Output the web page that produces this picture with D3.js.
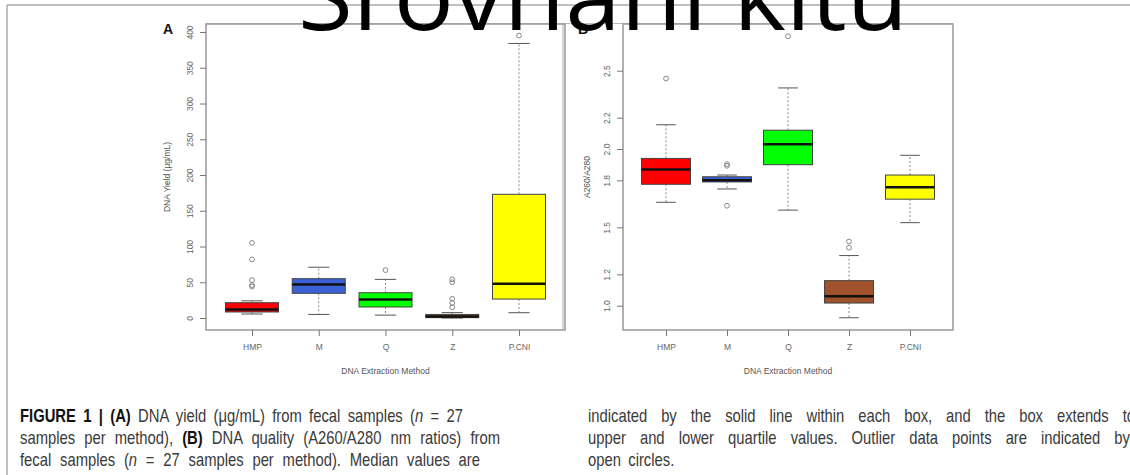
<!DOCTYPE html>
<html><head><meta charset="utf-8">
<script src="https://cdn.jsdelivr.net/npm/d3@7/dist/d3.min.js"></script>
<style>body{margin:0;background:#fff;}svg{display:block;}</style>
</head><body>
<svg id="c" width="1130" height="475"></svg>
<script>
const categories = ["HMP","M","Q","Z","P.CNI"];
const colors = ["#ff0000","#3a62d6","#00ff00","#a0522d","#ffff00"];
// Panel A: DNA yield (µg/mL): [lowWhisker, q1, median, q3, highWhisker]
const yieldStats = [
  [5.6, 8.4, 12, 21.4, 24],
  [5, 34.5, 47, 55, 71],
  [4, 15.4, 26, 35.4, 54],
  [0, 0.5, 2, 5, 7.5],
  [7.4, 26.5, 48, 173, 384]
];
const yieldOutliers = [[105, 82, 53, 46, 44], [], [67], [54, 50, 27, 21, 15], [395]];
const yieldTicks = [0,50,100,150,200,250,300,350,400];
// Panel B: A260/A280
const ratioStats = [
  [1.66, 1.775, 1.87, 1.94, 2.155],
  [1.745, 1.79, 1.80, 1.823, 1.834],
  [1.61, 1.90, 2.03, 2.12, 2.39],
  [0.923, 1.017, 1.06, 1.16, 1.32],
  [1.53, 1.68, 1.756, 1.834, 1.96]
];
const ratioOutliers = [[2.45], [1.904, 1.893, 1.638], [2.72], [1.41, 1.37], []];
const ratioTicks = [1.0,1.2,1.5,1.8,2.0,2.2,2.5];
const ratioTickLabels = ["1.0","1.2","1.5","1.8","2.0","2.2","2.5"];

const svg = d3.select("#c");
const gray = "#aaa";

svg.append("line").attr("x1",7).attr("x2",1130).attr("y1",5).attr("y2",5).attr("stroke",gray).attr("stroke-width",1.5);
svg.append("line").attr("x1",7).attr("x2",7).attr("y1",5).attr("y2",475).attr("stroke",gray).attr("stroke-width",1.5);
svg.append("line").attr("x1",563).attr("x2",563).attr("y1",23).attr("y2",330).attr("stroke","#bbb").attr("stroke-width",1.2);
svg.append("line").attr("x1",206).attr("x2",953).attr("y1",23.5).attr("y2",23.5).attr("stroke","#bbb").attr("stroke-width",1);

function panel(opt){
  const g = svg.append("g");
  const x = d3.scalePoint().domain(categories).range(opt.xr);
  const y = d3.scaleLinear().domain(opt.yd).range(opt.yr);
  g.append("rect").attr("x",opt.fx[0]).attr("y",24).attr("width",opt.fx[1]-opt.fx[0]).attr("height",330-24)
    .attr("fill","none").attr("stroke","#999").attr("stroke-width",1.5);
  const ya = d3.axisLeft(y).tickValues(opt.ticks).tickSize(6).tickFormat((d,i)=>opt.tickLabels[i]);
  const yg = g.append("g").attr("transform",`translate(${opt.fx[0]},0)`).call(ya);
  yg.select(".domain").remove();
  yg.selectAll(".tick line").attr("stroke","#777");
  yg.selectAll(".tick text").attr("transform","rotate(-90)").attr("x",0).attr("y",-13).attr("dy","0")
    .attr("text-anchor","middle").attr("fill","#666").style("font","8.5px 'Liberation Sans', Arial, sans-serif");
  const xa = d3.axisBottom(x).tickSize(6).tickPadding(8);
  const xg = g.append("g").attr("transform","translate(0,330)").call(xa);
  xg.select(".domain").remove();
  xg.selectAll(".tick line").attr("stroke","#777");
  xg.selectAll(".tick text").attr("fill","#666").style("font","8.5px 'Liberation Sans', Arial, sans-serif");
  g.append("text").attr("x",(opt.fx[0]+opt.fx[1])/2).attr("y",374).attr("text-anchor","middle")
    .attr("fill","#555").style("font","8.5px 'Liberation Sans', Arial, sans-serif").text("DNA Extraction Method");
  g.append("text").attr("transform",`translate(${opt.ylx},177) rotate(-90)`).attr("text-anchor","middle")
    .attr("fill","#555").style("font","8.5px 'Liberation Sans', Arial, sans-serif").text(opt.ylab);
  const bw = opt.bw;
  opt.stats.forEach((s,i)=>{
    const cx = x(categories[i]);
    const [lo,q1,med,q3,hi] = s;
    g.append("line").attr("x1",cx).attr("x2",cx).attr("y1",y(q3)).attr("y2",y(hi))
      .attr("stroke","#888").attr("stroke-dasharray","2,2").attr("stroke-width",1);
    g.append("line").attr("x1",cx).attr("x2",cx).attr("y1",y(q1)).attr("y2",y(lo))
      .attr("stroke","#888").attr("stroke-dasharray","2,2").attr("stroke-width",1);
    [lo,hi].forEach(v=>g.append("line").attr("x1",cx-bw*0.2).attr("x2",cx+bw*0.2).attr("y1",y(v)).attr("y2",y(v))
      .attr("stroke","#555").attr("stroke-width",1));
    g.append("rect").attr("x",cx-bw/2).attr("width",bw).attr("y",y(q3)).attr("height",Math.max(1,y(q1)-y(q3)))
      .attr("fill",colors[i]).attr("stroke","#444").attr("stroke-width",1);
    g.append("line").attr("x1",cx-bw/2).attr("x2",cx+bw/2).attr("y1",y(med)).attr("y2",y(med))
      .attr("stroke","#111").attr("stroke-width",2.5);
    opt.outliers[i].forEach(v=>g.append("circle").attr("cx",cx).attr("cy",y(v)).attr("r",2.4)
      .attr("fill","none").attr("stroke","#888").attr("stroke-width",1));
  });
  g.append("text").attr("x",opt.lab[0]).attr("y",34).attr("fill","#111")
    .style("font","bold 14px 'Liberation Sans', Arial, sans-serif").text(opt.label);
}

panel({xr:[252,519], yd:[0,400], yr:[318,32], fx:[206,565], ticks:yieldTicks,
  tickLabels:yieldTicks.map(String), stats:yieldStats, outliers:yieldOutliers, bw:53,
  ylab:"DNA Yield (μg/mL)", ylx:170, label:"A", lab:[163]});
panel({xr:[666,910], yd:[1.0,2.5], yr:[305.7,70.7], fx:[623,953], ticks:ratioTicks,
  tickLabels:ratioTickLabels, stats:ratioStats, outliers:ratioOutliers, bw:49,
  ylab:"A260/A280", ylx:590, label:"B", lab:[578]});

const capFont = "'Liberation Sans', Arial, sans-serif";
const sx = 0.8;
const capLines = [
  {x:20, y:422, w:443, segs:[["FIGURE 1 | (A)","b"],[" DNA yield (μg/mL) from fecal samples (",""],["n","i"],[" = 27",""]]},
  {x:20, y:444, w:480, segs:[["samples per method), ",""],["(B)","b"],[" DNA quality (A260/A280 nm ratios) from",""]]},
  {x:20, y:466, w:460, segs:[["fecal samples (",""],["n","i"],[" = 27 samples per method). Median values are",""]]},
  {x:588, y:422, w:547, segs:[["indicated by the solid line within each box, and the box extends to",""]]},
  {x:588, y:444, w:542, segs:[["upper and lower quartile values. Outlier data points are indicated by",""]]},
  {x:588, y:466, w:0, segs:[["open circles.",""]]}
];
capLines.forEach(L=>{
  const g = svg.append("g").attr("transform",`translate(${L.x},${L.y}) scale(${sx},1)`);
  const t = g.append("text").attr("x",0).attr("y",0).attr("fill","#3a3a3a")
    .style("font-family",capFont).style("font-size","18.5px");
  L.segs.forEach(([s,st])=>{
    const ts = t.append("tspan").text(s);
    if(st==="b") ts.attr("font-weight","bold").attr("fill","#111");
    if(st==="i") ts.attr("font-style","italic");
  });
  const txt = L.segs.map(s=>s[0]).join("");
  const spaces = (txt.match(/ /g)||[]).length;
  const len = t.node().getComputedTextLength();
  if(L.w>0){
    t.attr("word-spacing",(L.w/sx-len)/spaces);
  } else {
    t.attr("word-spacing",4);
  }
});

svg.append("text").attr("x",298).attr("y",30).attr("fill","#000")
  .attr("textLength",610).attr("lengthAdjust","spacingAndGlyphs")
  .style("font","96px 'Open Sans', 'Noto Sans', sans-serif").text("Srovnání kitů");
</script>
</body></html>
